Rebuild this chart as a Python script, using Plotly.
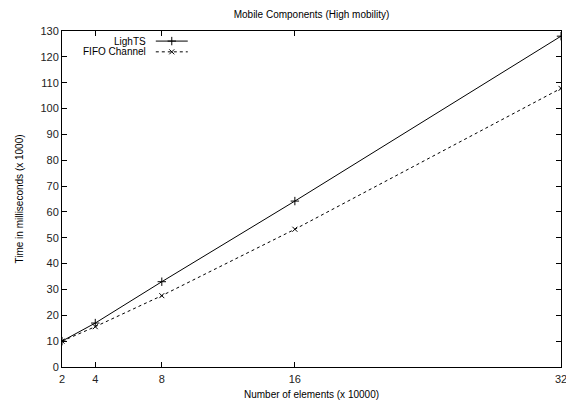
import plotly.graph_objects as go

# Number of elements (x 10000)
elements = [2, 4, 8, 16, 32]
# Time in milliseconds (x 1000)
lights_time = [10, 17, 33, 64.2, 128]
fifo_time = [10, 15.6, 27.6, 53.3, 107.8]

x_ticks = [2, 4, 8, 16, 32]
series_names = ["LighTS", "FIFO Channel"]

FONT = "Liberation Sans, Arial, Helvetica, sans-serif"

plus_marker = dict(symbol="cross-thin-open", size=6, color="black",
                   line=dict(color="black", width=1))
x_marker = dict(symbol="x-thin-open", size=5, color="black",
                line=dict(color="black", width=1))

fig = go.Figure()

fig.add_trace(go.Scatter(
    x=elements, y=lights_time, mode="lines+markers", name=series_names[0],
    line=dict(color="black", width=1), marker=plus_marker, showlegend=False,
))
fig.add_trace(go.Scatter(
    x=elements, y=fifo_time, mode="lines+markers", name=series_names[1],
    line=dict(color="black", width=1, dash="3px,3px"), marker=x_marker, showlegend=False,
))

# Key samples drawn on an overlay axis spanning the plot area (0..1)
key_x = [0.188, 0.252]
key_rows = [0.970, 0.938]
fig.add_trace(go.Scatter(
    x=key_x, y=[key_rows[0]] * 2, xaxis="x2", yaxis="y2", mode="lines",
    line=dict(color="black", width=1), showlegend=False, hoverinfo="skip",
))
fig.add_trace(go.Scatter(
    x=[sum(key_x) / 2], y=[key_rows[0]], xaxis="x2", yaxis="y2", mode="markers",
    marker=plus_marker, showlegend=False, hoverinfo="skip",
))
fig.add_trace(go.Scatter(
    x=key_x, y=[key_rows[1]] * 2, xaxis="x2", yaxis="y2", mode="lines",
    line=dict(color="black", width=1, dash="3px,3px"), showlegend=False, hoverinfo="skip",
))
fig.add_trace(go.Scatter(
    x=[sum(key_x) / 2], y=[key_rows[1]], xaxis="x2", yaxis="y2", mode="markers",
    marker=x_marker, showlegend=False, hoverinfo="skip",
))

for name, yrow in zip(series_names, key_rows):
    fig.add_annotation(
        x=0.172, y=yrow, xref="paper", yref="paper", text=name, showarrow=False,
        xanchor="right", yanchor="middle", font=dict(family=FONT, size=10, color="black"),
    )

axis_common = dict(
    showline=True, linecolor="black", linewidth=1, mirror="ticks",
    ticks="inside", ticklen=5, tickwidth=1, tickcolor="black",
    showgrid=False, zeroline=False, ticklabeloverflow="allow", automargin=False,
    tickfont=dict(family=FONT, size=11, color="#222"),
)

fig.update_layout(
    width=566, height=404,
    margin=dict(l=62, r=5, t=31, b=37),
    paper_bgcolor="white", plot_bgcolor="white",
    title=dict(text="Mobile Components (High mobility)", x=0.5, xref="paper",
               y=1 - 14 / 404, yanchor="middle",
               font=dict(family=FONT, size=10, color="black")),
    xaxis=dict(range=[2, 32], tickvals=x_ticks, ticktext=[str(v) for v in x_ticks],
               title=dict(text="Number of elements (x 10000)", standoff=6,
                          font=dict(family=FONT, size=10, color="black")),
               ticklabelstandoff=2, **axis_common),
    yaxis=dict(range=[0, 130], dtick=10,
               title=dict(text="Time in milliseconds (x 1000)", standoff=14,
                          font=dict(family=FONT, size=10, color="black")),
               **axis_common),
    xaxis2=dict(overlaying="x", range=[0, 1], visible=False, fixedrange=True),
    yaxis2=dict(overlaying="y", range=[0, 1], visible=False, fixedrange=True),
)

fig.write_html("out.html")
